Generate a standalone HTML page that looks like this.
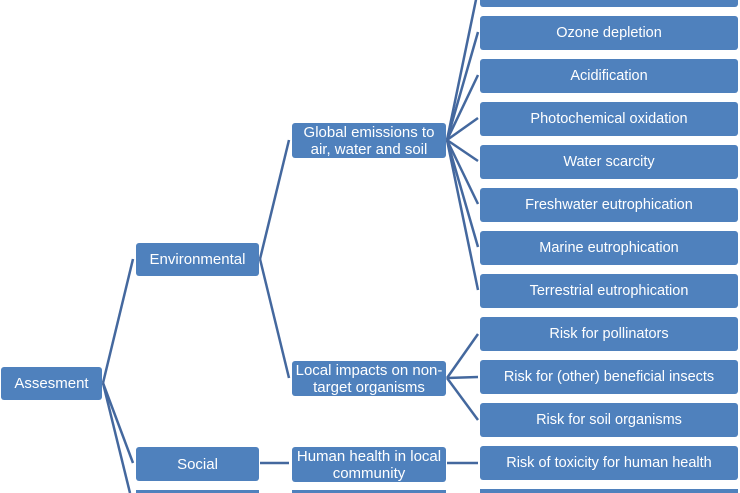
<!DOCTYPE html>
<html style="overflow:hidden;width:740px;height:493px"><head><style>
html,body{overflow:hidden}
body{margin:0;width:740px;height:493px;overflow:hidden;background:#fff;font-family:"Liberation Sans",sans-serif;position:relative}
.b{position:absolute;background:#4f81bd;color:#fff;border-radius:3px;display:flex;align-items:center;justify-content:center;text-align:center;font-size:14.5px;line-height:16px;box-sizing:border-box}
.m{font-size:15px;padding:0 6px;line-height:17px}
svg{position:absolute;left:0;top:0}
</style></head><body>
<svg width="740" height="493"><g stroke="#44689e" stroke-width="2.5" fill="none">
<line x1="103" y1="383" x2="133" y2="259"/><line x1="103" y1="383" x2="133" y2="463"/><line x1="103" y1="383" x2="130" y2="493"/>
<line x1="260" y1="259" x2="289" y2="140"/><line x1="260" y1="259" x2="289" y2="378"/>
<line x1="447" y1="140" x2="478" y2="-10"/><line x1="447" y1="140" x2="478" y2="32"/><line x1="447" y1="140" x2="478" y2="75"/><line x1="447" y1="140" x2="478" y2="118"/><line x1="447" y1="140" x2="478" y2="161"/><line x1="447" y1="140" x2="478" y2="204"/><line x1="447" y1="140" x2="478" y2="247"/><line x1="447" y1="140" x2="478" y2="290"/>
<line x1="447" y1="378" x2="478" y2="334"/><line x1="447" y1="378" x2="478" y2="377"/><line x1="447" y1="378" x2="478" y2="420"/>
<line x1="260" y1="463" x2="289" y2="463"/><line x1="447" y1="463" x2="478" y2="463"/>
</g></svg>
<div class="b m" style="left:1px;top:367px;width:101px;height:33px">Assesment</div>
<div class="b m" style="left:136px;top:243px;width:123px;height:33px">Environmental</div>
<div class="b m" style="left:136px;top:447px;width:123px;height:34px">Social</div>
<div class="b" style="left:136px;top:490px;width:123px;height:3px;border-radius:0"></div>
<div class="b m" style="left:292px;top:123px;width:154px;height:35px">Global emissions to<br>air, water and soil</div>
<div class="b m" style="left:292px;top:361px;width:154px;height:35px;padding:0 1px">Local impacts on non-<br>target organisms</div>
<div class="b m" style="left:292px;top:447px;width:154px;height:35px;padding:0 1px">Human health in local<br>community</div>
<div class="b" style="left:292px;top:490px;width:154px;height:3px;border-radius:0"></div>
<div class="b" style="left:480px;top:-27px;width:258px;height:34px"></div>
<div class="b" style="left:480px;top:16px;width:258px;height:34px">Ozone depletion</div>
<div class="b" style="left:480px;top:59px;width:258px;height:34px">Acidification</div>
<div class="b" style="left:480px;top:102px;width:258px;height:34px">Photochemical oxidation</div>
<div class="b" style="left:480px;top:145px;width:258px;height:34px">Water scarcity</div>
<div class="b" style="left:480px;top:188px;width:258px;height:34px">Freshwater eutrophication</div>
<div class="b" style="left:480px;top:231px;width:258px;height:34px">Marine eutrophication</div>
<div class="b" style="left:480px;top:274px;width:258px;height:34px">Terrestrial eutrophication</div>
<div class="b" style="left:480px;top:317px;width:258px;height:34px">Risk for pollinators</div>
<div class="b" style="left:480px;top:360px;width:258px;height:34px">Risk for (other) beneficial insects</div>
<div class="b" style="left:480px;top:403px;width:258px;height:34px">Risk for soil organisms</div>
<div class="b" style="left:480px;top:446px;width:258px;height:34px">Risk of toxicity for human health</div>
<div class="b" style="left:480px;top:489px;width:258px;height:4px;border-radius:0"></div>
</body></html>
